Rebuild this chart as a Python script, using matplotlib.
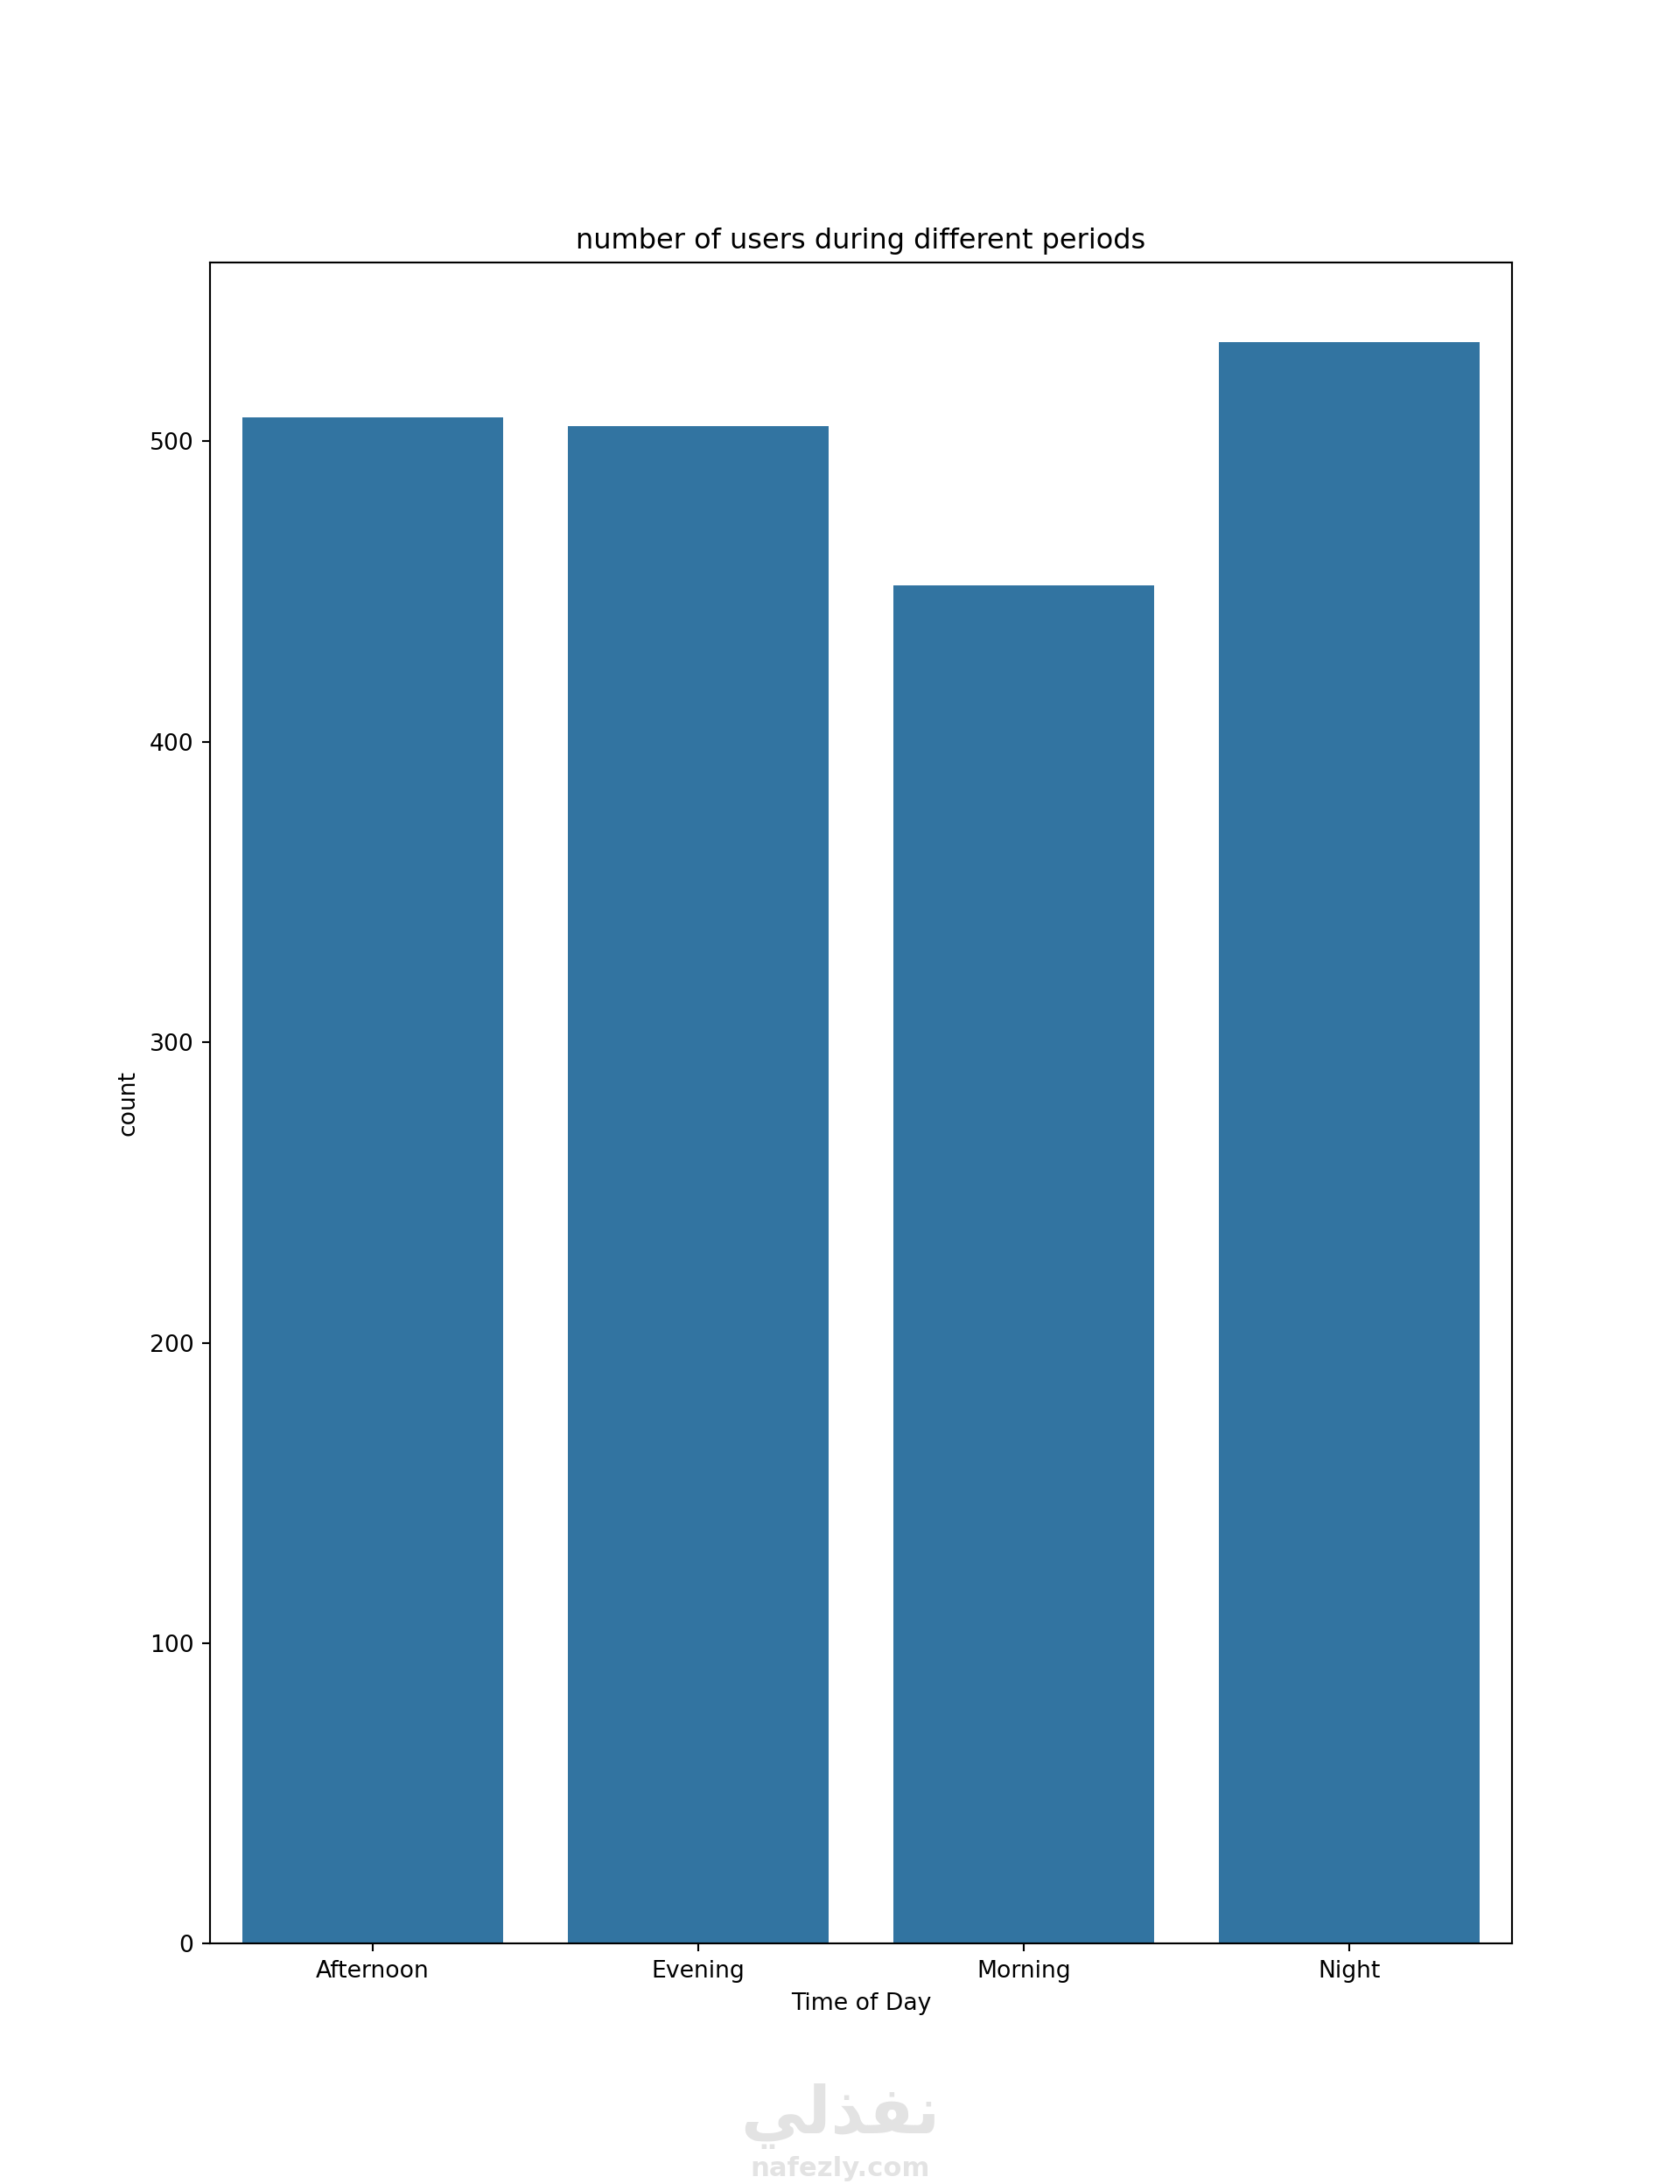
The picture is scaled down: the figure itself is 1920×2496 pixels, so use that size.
import matplotlib
matplotlib.use("Agg")
import matplotlib.pyplot as plt

periods = ["Afternoon", "Evening", "Morning", "Night"]
counts = [508, 505, 452, 533]

fig, ax = plt.subplots(figsize=(10, 13), dpi=192)

ax.bar(range(len(periods)), counts, width=0.8, color="#3274a1")
ax.set_xticks(range(len(periods)))
ax.set_xticklabels(periods)
ax.set_xlim(-0.5, len(periods) - 0.5)
ax.set_ylim(0, max(counts) * 1.05)

ax.set_title("number of users during different periods")
ax.set_xlabel("Time of Day")
ax.set_ylabel("count")

# watermark under the chart
fig.text(0.5, 0.031, "\uFEF2\uFEDF\uFEAC\uFED4\uFEE7", ha="center", va="center",
         fontsize=28, fontweight="bold", color="#e3e3e3", family=["DejaVu Sans"])
fig.text(0.5, 0.007, "nafezly.com", ha="center", va="center",
         fontsize=11.5, fontweight="bold", color="#e3e3e3")

fig.savefig("out.png", dpi=192)
